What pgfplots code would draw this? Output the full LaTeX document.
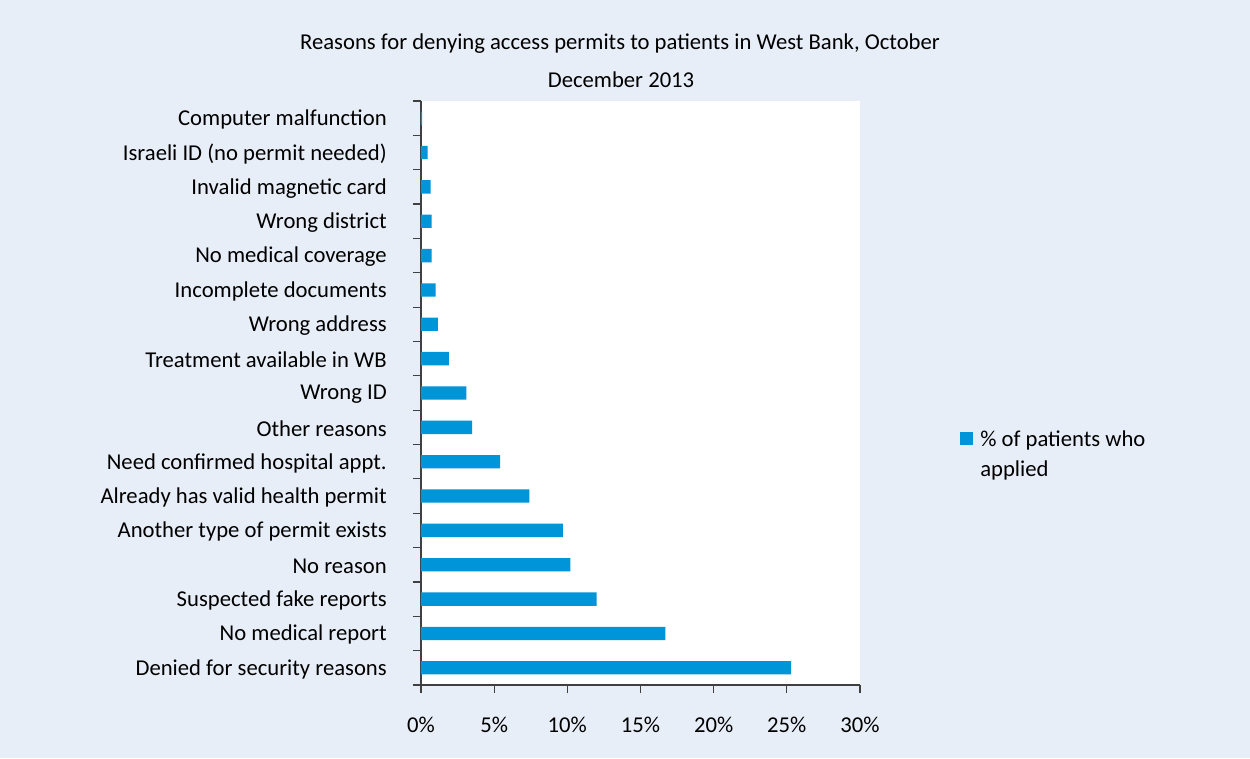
\documentclass[border=0pt]{standalone}
\usepackage{fontspec}
\setmainfont{Carlito}
\usepackage{pgfplots}
\pgfplotsset{compat=1.18}
\definecolor{bgblue}{HTML}{E8EEF8}
\definecolor{barblue}{HTML}{0095D8}
\definecolor{axisgray}{HTML}{404040}

\begin{document}
\fontsize{17}{20}\selectfont
\begin{tikzpicture}
% page is 1250 x 758 px, 1 px = 0.75 pt
\fill[bgblue] (0pt,0pt) rectangle (937.5pt,568.5pt);
\useasboundingbox (0pt,0pt) rectangle (937.5pt,568.5pt);
\node[anchor=base,inner sep=0pt] at (465pt,531.5pt) {Reasons for denying access permits to patients in West Bank, October};
\node[anchor=base,inner sep=0pt] at (465.75pt,502.5pt) {December 2013};

\begin{axis}[
    at={(315.75pt,54.75pt)}, anchor=south west,
    scale only axis, width=329.25pt, height=438pt,
    clip=false,
    axis background/.style={fill=white},
    xbar, bar width=10pt, bar shift=0pt,
    xmin=0, xmax=30, ymin=-0.5, ymax=16.5,
    axis x line*=bottom, axis y line*=left,
    axis line style={axisgray, line width=0.9pt},
    tick style={axisgray, line width=0.9pt},
    tick align=outside, major tick length=6pt,
    xtick={0,5,...,30},
    xticklabel={\pgfmathprintnumber{\tick}\%},
    xticklabel style={inner sep=0pt, anchor=base, yshift=-29.5pt},
    /pgf/number format/assume math mode=true,
    ytick={-0.5,0.5,...,16.5}, yticklabels={},
    extra y ticks={0,1,...,16},
    extra y tick labels={Denied for security reasons, No medical report,
        Suspected fake reports, No reason, Another type of permit exists,
        Already has valid health permit, Need confirmed hospital appt.,
        Other reasons, Wrong ID, Treatment available in WB, Wrong address,
        Incomplete documents, No medical coverage, Wrong district,
        Invalid magnetic card, Israeli ID (no permit needed), Computer malfunction},
    extra y tick style={major tick length=0pt, tick style={draw=none},
        yticklabel style={inner sep=0pt, anchor=east, xshift=-25.5pt, yshift=-1pt}},
    legend style={at={(axis description cs:1.2278,0.4378)}, anchor=north west,
        draw=none, fill=none, inner sep=0pt, column sep=5.3pt, row sep=6pt,
        nodes={inner sep=0pt, text height=12.5pt, text depth=4.5pt, anchor=base west}},
    legend cell align=left,
]
\addplot[fill=barblue, draw=none,
    legend image code/.code={\fill[barblue] (0pt,1pt) rectangle (9.75pt,10.75pt);}]
coordinates {
(25.3,0) (16.7,1) (12.0,2) (10.2,3) (9.7,4) (7.4,5) (5.4,6) (3.5,7)
(3.1,8) (1.9,9) (1.15,10) (1.0,11) (0.73,12) (0.73,13) (0.66,14) (0.45,15) (0.07,16)
};
\addlegendentry{\% of patients who}
\addlegendimage{empty legend}
\addlegendentry{applied}
\end{axis}
\end{tikzpicture}
\end{document}
